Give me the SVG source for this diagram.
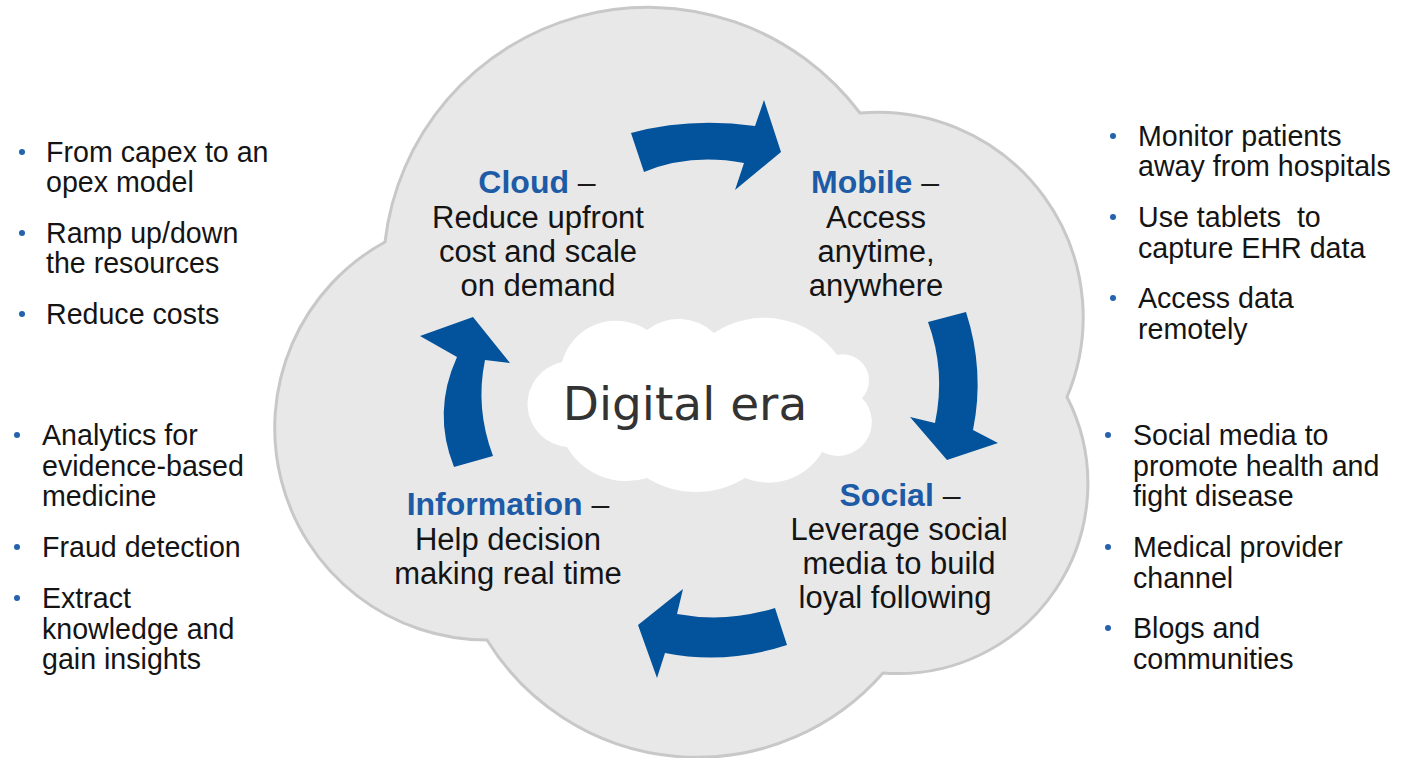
<svg xmlns="http://www.w3.org/2000/svg" width="1401" height="758" viewBox="0 0 1401 758">
<style>
.h{font-family:"Liberation Sans",Arial,sans-serif;font-size:32px;font-weight:bold;fill:#1d5ba6}
.d{font-weight:normal;fill:#1a1a1a}
.t{font-family:"Liberation Sans",Arial,sans-serif;font-size:31px;fill:#141414}
.l{font-family:"Liberation Sans",Arial,sans-serif;font-size:28.6px;fill:#141414}
.bul{fill:#2462ad}
.arr{fill:#02529c}
</style>
<rect width="1401" height="758" fill="#ffffff"/>
<g id="bigcloud">
<path d="M385,242 A265,265 0 0,1 860,113 A205,205 0 0,1 1067,397 A190,190 0 0,1 883,673 A247,247 0 0,1 487,640 A212,212 0 0,1 385,242 Z" fill="#e8e8e8" stroke="#c8c8c8" stroke-width="3"/>
</g>
<g id="connectors">
<path class="arr" d="M631,133 Q690,117 755,126 L764,100 L781,152 L735,190 L744,163 Q690,153 644,172 Z"/>
<path class="arr" d="M928,322 L966,312 Q985,371 973,430 L998,443 L947,460 L910,417 L935,423 Q946,371 928,322 Z"/>
<path class="arr" d="M775,608 Q726,623 677,614 L683,589 L638,625 L657,678 L665,653 Q726,665 787,645 Z"/>
<path class="arr" d="M454,467 Q432,412 457,357 L420,336 L473,317 L510,363 L485,360 Q475,408 493,456 Z"/>
</g>
<g id="digital-era">
<ellipse cx="855" cy="438" rx="10" ry="8" fill="#1a2638"/>
<path d="M562,362 A56,56 0 0,1 647,330 A51,51 0 0,1 714,333 A90,90 0 0,1 837,355 A26,26 0 0,1 862,398 A34,34 0 0,1 822,452 A62,62 0 0,1 745,478 A93,93 0 0,1 647,478 A69,69 0 0,1 567,447 A43,43 0 0,1 562,362 Z" fill="#ffffff"/>
<text x="685" y="420" text-anchor="middle" font-family="'DejaVu Sans',Verdana,sans-serif" font-size="47" fill="#333333">Digital era</text>
</g>
<g id="node-cloud">
<text class="h" x="537" y="193" text-anchor="middle">Cloud<tspan class="d"> –</tspan></text>
<text class="t" text-anchor="middle"><tspan x="538" y="228">Reduce upfront</tspan><tspan x="538" y="262">cost and scale</tspan><tspan x="538" y="296">on demand</tspan></text>
</g>
<g id="node-mobile">
<text class="h" x="875" y="193" text-anchor="middle">Mobile<tspan class="d"> –</tspan></text>
<text class="t" text-anchor="middle"><tspan x="876" y="228">Access</tspan><tspan x="876" y="262">anytime,</tspan><tspan x="876" y="296">anywhere</tspan></text>
</g>
<g id="node-social">
<text class="h" x="900" y="506" text-anchor="middle">Social<tspan class="d"> –</tspan></text>
<text class="t" text-anchor="middle"><tspan x="899" y="540">Leverage social</tspan><tspan x="899" y="574">media to build</tspan><tspan x="895" y="608">loyal following</tspan></text>
</g>
<g id="node-information">
<text class="h" x="508" y="515" text-anchor="middle">Information<tspan class="d"> –</tspan></text>
<text class="t" text-anchor="middle"><tspan x="508" y="550">Help decision</tspan><tspan x="508" y="584">making real time</tspan></text>
</g>
<g id="list-cloud">
<circle class="bul" cx="22" cy="152" r="3"/><circle class="bul" cx="22" cy="233" r="3"/><circle class="bul" cx="22" cy="314" r="3"/>
<text class="l"><tspan x="46" y="162">From capex to an</tspan><tspan x="46" y="192">opex model</tspan><tspan x="46" y="243">Ramp up/down</tspan><tspan x="46" y="273">the resources</tspan><tspan x="46" y="324">Reduce costs</tspan></text>
</g>
<g id="list-information">
<circle class="bul" cx="17" cy="435" r="3"/><circle class="bul" cx="17" cy="547" r="3"/><circle class="bul" cx="17" cy="598" r="3"/>
<text class="l"><tspan x="42" y="445">Analytics for</tspan><tspan x="42" y="476">evidence-based</tspan><tspan x="42" y="506">medicine</tspan><tspan x="42" y="557">Fraud detection</tspan><tspan x="42" y="608">Extract</tspan><tspan x="42" y="639">knowledge and</tspan><tspan x="42" y="669">gain insights</tspan></text>
</g>
<g id="list-mobile">
<circle class="bul" cx="1113" cy="136" r="3"/><circle class="bul" cx="1113" cy="217" r="3"/><circle class="bul" cx="1113" cy="298" r="3"/>
<text class="l"><tspan x="1138" y="146">Monitor patients</tspan><tspan x="1138" y="176">away from hospitals</tspan><tspan x="1138" y="227">Use tablets&#160; to</tspan><tspan x="1138" y="258">capture EHR data</tspan><tspan x="1138" y="308">Access data</tspan><tspan x="1138" y="339">remotely</tspan></text>
</g>
<g id="list-social">
<circle class="bul" cx="1108" cy="435" r="3"/><circle class="bul" cx="1108" cy="547" r="3"/><circle class="bul" cx="1108" cy="628" r="3"/>
<text class="l"><tspan x="1133" y="445">Social media to</tspan><tspan x="1133" y="476">promote health and</tspan><tspan x="1133" y="506">fight disease</tspan><tspan x="1133" y="557">Medical provider</tspan><tspan x="1133" y="588">channel</tspan><tspan x="1133" y="638">Blogs and</tspan><tspan x="1133" y="669">communities</tspan></text>
</g>
</svg>
